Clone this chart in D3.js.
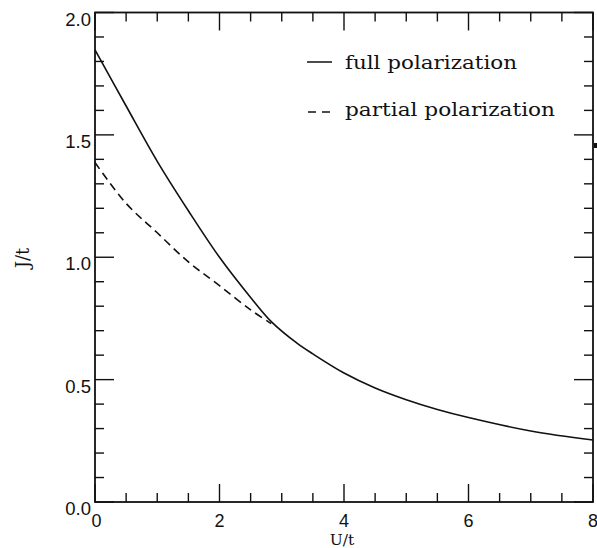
<!DOCTYPE html>
<html>
<head>
<meta charset="utf-8">
<script src="https://cdn.jsdelivr.net/npm/d3@7"></script>
<style>
  html, body { margin: 0; padding: 0; background: #fff; }
  svg { display: block; }
</style>
</head>
<body>
<svg id="chart" width="597" height="548"></svg>
<script>
// Exchange coupling J/t versus interaction U/t
const fullU = [0, 0.5, 1, 1.5, 2, 2.5, 2.84, 3.25, 3.5, 4, 4.5, 5, 5.5, 6, 7, 8];
const fullJ = [1.847, 1.618, 1.392, 1.19, 1.0, 0.836, 0.735, 0.648, 0.605, 0.527, 0.466, 0.418, 0.378, 0.345, 0.290, 0.253];
const partialU = [0, 0.5, 1, 1.5, 2, 2.5, 2.83];
const partialJ = [1.387, 1.22, 1.10, 0.981, 0.884, 0.785, 0.729];

const xTicks = [0, 2, 4, 6, 8];
const xTickLabels = ["0", "2", "4", "6", "8"];
const yTicks = [0, 0.5, 1.0, 1.5, 2.0];
const yTickLabels = ["0.0", "0.5", "1.0", "1.5", "2.0"];
const legendLabels = ["full polarization", "partial polarization"];

const svg = d3.select("#chart");
const plotLeft = 95, plotRight = 593, plotTop = 12.5, plotBottom = 502;

const x = d3.scaleLinear().domain([0, 8]).range([plotLeft, plotRight]);
const y = d3.scaleLinear().domain([0, 2]).range([plotBottom, plotTop]);

const ink = "#111";
const tickFont = "'Liberation Sans', Arial, sans-serif";
const textFont = "'DejaVu Serif', 'Liberation Serif', serif";

// frame
svg.append("rect")
  .attr("x", plotLeft).attr("y", plotTop)
  .attr("width", plotRight - plotLeft).attr("height", plotBottom - plotTop)
  .attr("fill", "none").attr("stroke", ink).attr("stroke-width", 1.8);

// ticks on all four sides, pointing inward
const minorX = d3.range(0, 8.001, 0.5);
const minorY = d3.range(0, 2.001, 0.1);
const isMajorX = v => Math.abs(v / 2 - Math.round(v / 2)) < 1e-6;
const isMajorY = v => Math.abs(v / 0.5 - Math.round(v / 0.5)) < 1e-6;

const tg = svg.append("g").attr("stroke", ink).attr("stroke-width", 1.4);
minorX.forEach(v => {
  const len = isMajorX(v) ? 18 : 9;
  tg.append("line").attr("x1", x(v)).attr("x2", x(v)).attr("y1", plotBottom).attr("y2", plotBottom - len);
  tg.append("line").attr("x1", x(v)).attr("x2", x(v)).attr("y1", plotTop).attr("y2", plotTop + len);
});
minorY.forEach(v => {
  const len = isMajorY(v) ? 19 : 9;
  tg.append("line").attr("y1", y(v)).attr("y2", y(v)).attr("x1", plotLeft).attr("x2", plotLeft + len);
  tg.append("line").attr("y1", y(v)).attr("y2", y(v)).attr("x1", plotRight).attr("x2", plotRight - len);
});

// tick labels
svg.append("g").selectAll("text").data(xTicks).join("text")
  .attr("x", (d, i) => x(d) + (i === 0 ? 1.5 : 0))
  .attr("y", plotBottom + 25)
  .attr("text-anchor", "middle")
  .attr("font-family", tickFont).attr("font-size", 18).attr("fill", ink)
  .text((d, i) => xTickLabels[i]);

svg.append("g").selectAll("text").data(yTicks).join("text")
  .attr("x", plotLeft - 4)
  .attr("y", d => y(d) + 13)
  .attr("text-anchor", "end")
  .attr("font-family", tickFont).attr("font-size", 18.5).attr("fill", ink)
  .text((d, i) => yTickLabels[i]);

// axis titles
svg.append("text")
  .attr("x", 342).attr("y", 544.5)
  .attr("text-anchor", "middle")
  .attr("font-family", textFont).attr("font-size", 15.5).attr("fill", ink)
  .text("U/t");

svg.append("text")
  .attr("transform", "translate(29,258) rotate(-90)")
  .attr("text-anchor", "middle")
  .attr("font-family", textFont).attr("font-size", 18).attr("fill", ink)
  .text("J/t");

// curves
const line = d3.line()
  .x(d => x(d[0])).y(d => y(d[1]))
  .curve(d3.curveCatmullRom.alpha(0.5));

svg.append("path")
  .datum(fullU.map((u, i) => [u, fullJ[i]]))
  .attr("d", line)
  .attr("fill", "none").attr("stroke", ink).attr("stroke-width", 1.6);

svg.append("path")
  .datum(partialU.map((u, i) => [u, partialJ[i]]))
  .attr("d", line)
  .attr("fill", "none").attr("stroke", ink).attr("stroke-width", 1.6)
  .attr("stroke-dasharray", "8,5");

// legend
const lg = svg.append("g");
lg.append("line").attr("x1", 307).attr("x2", 332).attr("y1", 62).attr("y2", 62)
  .attr("stroke", ink).attr("stroke-width", 1.5);
lg.append("line").attr("x1", 308).attr("x2", 336).attr("y1", 112).attr("y2", 112)
  .attr("stroke", ink).attr("stroke-width", 1.5).attr("stroke-dasharray", "8,6");
lg.append("text").attr("x", 345).attr("y", 69)
  .attr("font-family", textFont).attr("font-size", 18).attr("fill", ink)
  .attr("textLength", 172).attr("lengthAdjust", "spacingAndGlyphs")
  .text(legendLabels[0]);
lg.append("text").attr("x", 345).attr("y", 116)
  .attr("font-family", textFont).attr("font-size", 18).attr("fill", ink)
  .attr("textLength", 210).attr("lengthAdjust", "spacingAndGlyphs")
  .text(legendLabels[1]);

// small mark at the right edge
svg.append("rect").attr("x", plotRight + 1).attr("y", 143).attr("width", 3).attr("height", 5).attr("fill", ink);
</script>
</body>
</html>
